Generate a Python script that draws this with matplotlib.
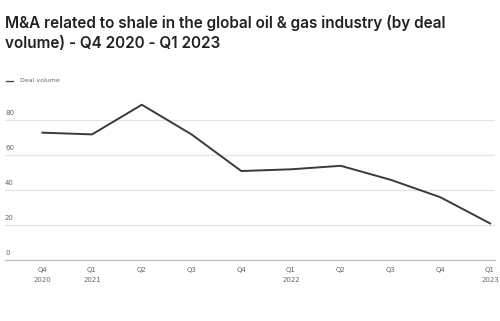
import matplotlib.pyplot as plt

quarters = ['Q4\n2020', 'Q1\n2021', 'Q2', 'Q3', 'Q4', 'Q1\n2022', 'Q2', 'Q3', 'Q4', 'Q1\n2023']
deal_volume = [73, 72, 89, 72, 51, 52, 54, 46, 36, 21]
y_ticks = [0, 20, 40, 60, 80]

fig = plt.figure(figsize=(5, 3.21), dpi=100)
ax = fig.add_axes([0.01, 0.19, 0.98, 0.50])

x = list(range(len(quarters)))
line, = ax.plot(x, deal_volume, '-', color='#3a3a3a', linewidth=1.4)

ax.set_xlim(-0.75, 9.1)
ax.set_ylim(0, 92)
ax.set_yticks(y_ticks)
ax.set_yticklabels([])
ax.tick_params(axis='y', length=0)
ax.grid(axis='y', color='#e4e4e4', linewidth=0.9)
ax.set_axisbelow(True)
for s in ['top', 'right', 'left']:
    ax.spines[s].set_visible(False)
ax.spines['bottom'].set_color('#bdbdbd')
ax.spines['bottom'].set_linewidth(0.9)

ax.set_xticks(x)
ax.set_xticklabels(quarters, fontsize=5, color='#666666', linespacing=1.9)
ax.tick_params(axis='x', length=0, pad=5)

# y labels sit just above the gridlines at the left edge
for v in y_ticks:
    ax.text(0.0, v + 2.5, str(v), transform=ax.get_yaxis_transform(),
            fontsize=5, color='#666666', ha='left', va='bottom')

fig.text(0.01, 0.952, 'M&A related to shale in the global oil & gas industry (by deal\nvolume) - Q4 2020 - Q1 2023',
         fontsize=11, fontweight='semibold', family='Inter', color='#222222',
         ha='left', va='top', linespacing=1.4)

# legend
fig.lines.append(plt.Line2D([0.012, 0.026], [0.748, 0.748], color='#3a3a3a', linewidth=0.9,
                            transform=fig.transFigure))
fig.text(0.04, 0.748, 'Deal volume', fontsize=4.5, color='#666666', va='center', ha='left')

plt.savefig('out.png', dpi=100)
